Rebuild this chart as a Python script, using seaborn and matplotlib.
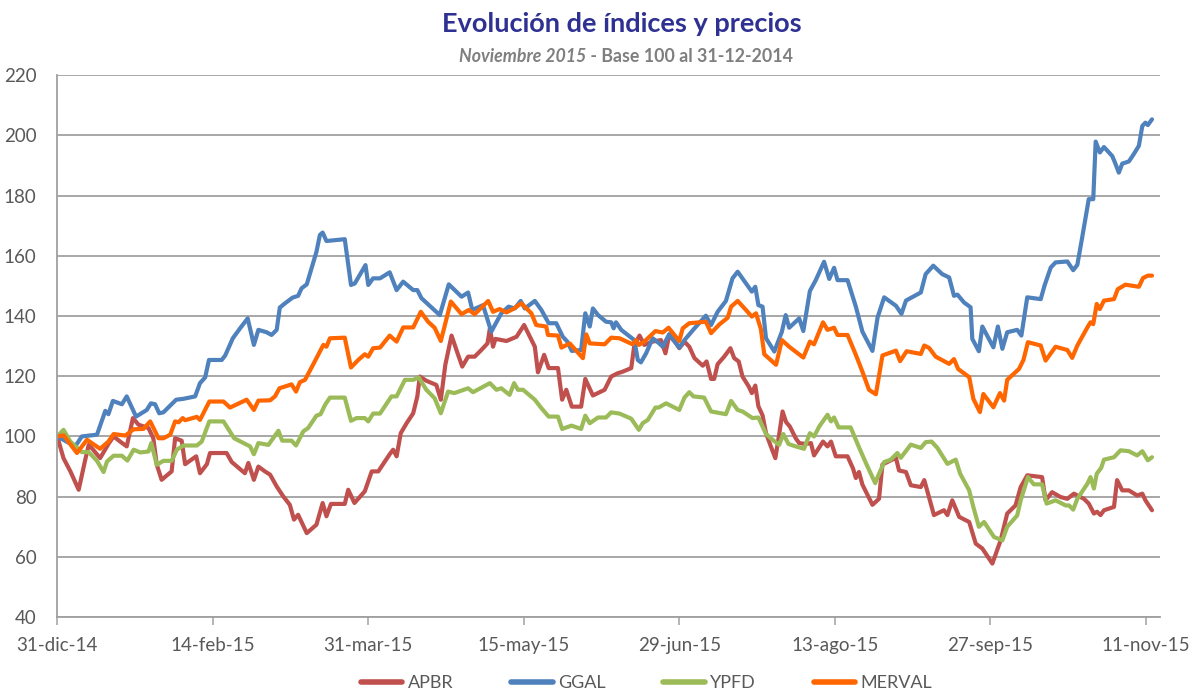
import pandas as pd
import matplotlib
matplotlib.use("Agg")
import matplotlib.pyplot as plt
import seaborn as sns

# días desde el 31-12-2014 y valor base 100
apbr_dia = [0, 1.8, 3.8, 6.2, 8.1, 9.1, 10, 12.4, 14.8, 16.3, 18.2, 20.1, 21.9, 23.5, 26.4, 27.8, 28.8, 30.2, 33.1, 34.1,
            36, 37, 40.2, 41.3, 43.3, 44.2, 49, 50.5, 54.3, 55.3, 56.9, 58.2, 60.1, 61.6, 63.5, 65.4, 67.3, 68.5, 69.7, 72.2,
            75, 76.8, 77.9, 79.2, 83.2, 84.2, 86, 89, 91, 92.9, 96.2, 97.2, 98.2, 99.4, 101.1, 103, 104.2, 104.9, 106.8, 109.7,
            111, 112.3, 114.1, 116, 117.2, 118.9, 120.8, 122.7, 124.5, 125.2, 126.1, 126.8, 130, 132.9, 135.1, 138.2, 139.1, 140.9, 142.2, 144.9,
            146.1, 147.3, 148.9, 151.6, 152.8, 155, 158.4, 160.3, 162.2, 163.6, 166.1, 167, 168.5, 169.9, 172.3, 174.7, 176, 177.1, 179.1, 180,
            181.5, 182.9, 184.4, 186.8, 187.9, 189.2, 190.1, 191.1, 193, 194.8, 195.9, 197.2, 198.3, 200.1, 201, 202, 202.9, 204.1, 205.1, 206.5,
            207.8, 208.9, 209.9, 210.9, 212, 213.7, 214.7, 216.6, 218.1, 219, 221.6, 222.9, 223.9, 225.3, 228.7, 230.3, 231.1, 232, 233, 235.9,
            237.8, 238.8, 242.7, 243.6, 245.6, 247, 249.9, 250.9, 253.7, 256.6, 257.6, 259, 261, 263.9, 265.8, 267.7, 270.6, 273, 274.9, 277.3,
            278.8, 280.7, 285, 286, 287.9, 290.3, 292.3, 294.2, 297.1, 298.5, 300, 300.9, 301.9, 302.9, 305.8, 306.7, 308.2, 310.1, 312.5, 314,
            314.9, 316.8]
apbr_val = [100, 92.8, 88.4, 82.3, 92.3, 97.2, 96.1, 92.8, 97.5, 100, 98.3, 96.7, 106.1, 103.9, 102.8, 99.4, 90.6, 85.6, 88.4, 99.4,
            98.6, 90.8, 93.4, 87.8, 90.8, 94.5, 94.5, 91.5, 87.8, 91.2, 85.6, 90, 88.4, 87.3, 83.4, 80.1, 77.3, 72.4, 74, 67.9,
            70.7, 77.9, 73.5, 77.6, 77.6, 82.3, 77.9, 81.8, 88.4, 88.4, 94.1, 95.6, 93.4, 101.1, 104.4, 107.7, 113.3, 119.9, 118.5, 117.1,
            112.2, 123.8, 133.5, 127.1, 123.2, 126.5, 126.5, 128.7, 130.9, 135.9, 129.8, 132.4, 131.7, 133.1, 137, 129.8, 121.3, 127.1, 122.7, 122.7,
            112.2, 115.5, 109.9, 109.9, 119.1, 113.6, 115.5, 119.9, 121, 121.5, 122.7, 130.4, 133.5, 130.4, 131.5, 132, 127.6, 133.7, 130.9, 129.3,
            131.5, 129.8, 126, 123.5, 124.9, 119.1, 119.1, 124, 126.5, 129.3, 126, 124.9, 119.9, 116.6, 114.4, 116.9, 110, 107, 101.1, 96.7,
            92.8, 100.6, 108.3, 104.8, 103.3, 99.4, 97.8, 97.5, 97.8, 93.7, 98.3, 96.7, 98.3, 93.4, 93.4, 89.3, 86.2, 88.2, 84, 77.3,
            79.3, 90.7, 92.9, 88.7, 88.2, 83.8, 83.2, 85.5, 73.9, 75.5, 73.9, 78.8, 73.3, 71.6, 64.4, 62.8, 57.8, 65.5, 74.4, 77.1,
            83.2, 87.1, 86.5, 78.8, 81.5, 79.9, 79.3, 81, 79.3, 77.7, 74.4, 75, 73.9, 75.5, 76.6, 85.5, 82.1, 82.1, 80.4, 81,
            78.8, 75.5]

ggal_dia = [0, 5.2, 7.1, 11.5, 13.9, 14.8, 16.1, 18.7, 20.1, 22.8, 25.9, 27.1, 28.3, 29.5, 30.7, 34.4, 36.5, 39.9, 41.3, 42.8,
            43.9, 47.6, 48.6, 50.8, 52.9, 55.1, 56.9, 58.2, 60.6, 62, 63.5, 64.4, 65.9, 68.1, 69.7, 70.7, 72.2, 73.3, 75, 76,
            76.8, 77.9, 83.2, 85, 86.1, 89.2, 90, 91.4, 93.4, 96.2, 98.2, 100.1, 103, 104.2, 105.4, 110.7, 113.3, 117, 118.9, 120.1,
            123.2, 125.6, 128.5, 130.6, 132.4, 134.1, 135.3, 138.2, 140.1, 142.2, 144.4, 146.3, 147.6, 148.9, 151.6, 152.8, 154.1, 155, 156.5, 158.8,
            160.3, 161, 161.7, 163.2, 165.1, 167, 168, 168.9, 170.4, 172.3, 174.2, 175.2, 177.1, 180, 181.5, 184.4, 187.7, 189.2, 191.1, 193.5,
            195.4, 196.9, 199.3, 201, 202, 202.9, 204.1, 205.1, 207.5, 209.7, 210.8, 211.8, 214.7, 215.9, 217.8, 219.5, 221.9, 223.4, 224.8, 225.8,
            228.7, 231.1, 233, 235.9, 237.4, 239.3, 242.7, 244.3, 245.6, 247, 249.9, 251.3, 253.5, 256.1, 258.1, 259.5, 260.5, 262.4, 264.3, 264.8,
            266.7, 267.7, 269.6, 270.9, 272.2, 273.5, 274.9, 277.8, 279, 280.7, 284.6, 285.7, 287.5, 288.9, 292.3, 294, 295.2, 296.6, 298.5, 299.8,
            300.5, 301.7, 302.9, 305.3, 306.1, 307.2, 308.2, 310.1, 311.5, 313, 314, 314.9, 315.6, 316.8]
ggal_val = [100, 96.7, 100, 100.6, 108.5, 107.4, 111.8, 110.7, 113.3, 106.6, 108.8, 111, 110.7, 107.7, 108, 112.2, 112.5, 113.3, 117.7, 119.6,
            125.4, 125.4, 126.9, 132.6, 135.9, 139.2, 130.4, 135.4, 134.6, 133.7, 135.4, 142.8, 144.2, 146.1, 146.7, 149.2, 150.5, 154.7, 161.3, 166.9,
            167.7, 164.9, 165.5, 150.3, 150.8, 156.9, 150.3, 152.5, 152.5, 154.5, 148.6, 151.4, 148.6, 148.6, 145.9, 140.3, 150.5, 146.4, 147.8, 142,
            143.6, 134.8, 140.9, 143.1, 142.5, 145, 142.5, 145, 142, 137.6, 137.6, 133.1, 131.5, 128.4, 128.7, 140.9, 136.5, 142.5, 140.3, 138.1,
            137.9, 135.9, 137.9, 135.4, 133.7, 132, 125.4, 124.6, 127.6, 132.6, 130.9, 129.8, 134, 129.5, 132, 135.9, 140.1, 137, 141.4, 145,
            152.5, 154.7, 150.8, 148.1, 149.7, 143.6, 143.1, 132.6, 128.2, 134.8, 140.3, 136.1, 139.2, 135, 148.3, 151.9, 158, 152.3, 156, 151.9,
            151.9, 143.1, 134.8, 128.4, 139.6, 146.2, 143.4, 140.7, 145.1, 146, 147.8, 153.9, 156.7, 153.9, 152.8, 146.7, 147.1, 144.5, 142.9, 132.4,
            128.3, 136.5, 132.4, 129.6, 136.5, 129.1, 134.6, 135.4, 133.5, 146.2, 145.6, 150.1, 156.1, 157.8, 158.1, 155.2, 157, 166.1, 178.8, 178.8,
            197.9, 194.3, 196.1, 193.1, 190.9, 187.6, 190.6, 191.3, 193.7, 196.5, 203.1, 204.2, 203.4, 205.3]

ypfd_dia = [0, 1.8, 3.8, 7.1, 9.1, 11.5, 13.4, 14.4, 16.3, 18.7, 20.3, 22.1, 24, 26.4, 27.2, 28.8, 30.7, 33.1, 34.6, 36.5,
            40.4, 41.8, 44, 48.1, 51.2, 55.8, 56.9, 58.2, 61.1, 64, 65.1, 67.8, 69.1, 71.2, 72.6, 75, 76.2, 77.5, 78.9, 83.2,
            85, 86.6, 89, 90, 91.4, 93.4, 96.7, 98.2, 100.6, 103, 104.6, 106.8, 109.2, 111, 113.1, 114.9, 118.9, 120.3, 125.2, 127.1,
            128.5, 130.9, 132.2, 133.3, 134.8, 138.2, 140.1, 142.2, 144.9, 146.1, 148.8, 151.6, 152.8, 154.1, 156.5, 158.8, 160.3, 162.7, 166.1, 168.3,
            169.4, 170.9, 173.1, 174, 176.2, 180, 181.5, 182.9, 184.1, 187.2, 189.2, 193.5, 195, 196.9, 198.3, 201.2, 202.9, 205.1, 207, 208.9,
            210.1, 211.6, 213.7, 216.1, 217.8, 219, 220.5, 222.9, 223.9, 224.8, 226.1, 229.6, 231.9, 234, 236.7, 237.4, 239.3, 241.2, 243.1, 244.1,
            247, 249.9, 251.3, 253, 254.7, 257.6, 260, 261.3, 263.9, 265.1, 266.7, 268.2, 271.1, 273.5, 274.9, 277.8, 278.8, 280.9, 282.6, 285,
            286.3, 288.9, 291.8, 292.8, 294, 295.2, 298.1, 299, 300, 300.8, 302.1, 302.9, 305.8, 307.7, 310.1, 312.5, 314, 315.6, 316.8]
ypfd_val = [100, 102.2, 98.3, 94.8, 94.8, 91.9, 88.2, 91.7, 93.6, 93.6, 92, 95.6, 94.7, 95, 97.8, 90.6, 91.9, 91.9, 95.6, 97,
            97, 98.3, 105, 105, 99.4, 96.7, 94.1, 97.8, 97.2, 101.9, 98.6, 98.6, 97, 101.7, 102.8, 106.9, 107.4, 110.5, 112.9, 112.9,
            105.2, 106.1, 106.1, 105, 107.6, 107.6, 113.3, 113.3, 118.8, 118.8, 119.6, 115.5, 112.7, 107.7, 114.9, 114.4, 116, 114.7, 117.7, 115.5,
            116, 113.8, 117.7, 115.5, 115.5, 112.2, 109.4, 106.6, 106.6, 102.5, 103.6, 102.5, 106.9, 104.4, 106.3, 106.3, 108, 107.6, 105.9, 102.2,
            104.4, 105.5, 109.6, 109.6, 111, 108.8, 112.9, 114.7, 113.3, 112.9, 108.3, 107.4, 111.8, 108.8, 108.3, 106.1, 106.3, 100.8, 98.9, 97.2,
            100.8, 97.5, 96.7, 95.9, 101.1, 100, 103.3, 107.2, 105, 106.3, 103, 103, 96.7, 91.2, 84.5, 86.5, 91.5, 92.3, 94.5, 92.9,
            97.3, 96.2, 98.1, 98.3, 96.2, 90.9, 92.3, 87.6, 82.1, 76.6, 70, 71.6, 66.6, 65.5, 70, 73.8, 78.8, 86.5, 84.1, 84.1,
            77.7, 78.8, 77.1, 77.1, 75.7, 79.3, 84.3, 86.5, 82.7, 87.6, 89.6, 92.3, 93.1, 95.4, 95.1, 93.7, 95.1, 92.1, 93.1]

merval_dia = [0, 1.8, 5.7, 8.6, 12.4, 14.8, 16.3, 19.7, 22.1, 24.9, 26.9, 29.3, 30.7, 32.7, 34.1, 35.1, 36.3, 37, 40.4, 41.3,
              44, 48.1, 50, 54.8, 56.9, 58.2, 61.6, 63, 64.3, 67.8, 69.1, 70.2, 71.7, 74.1, 77, 77.9, 78.9, 83.2, 85, 87.1,
              89, 90, 91.4, 93.4, 96.2, 98.2, 100.1, 103, 105.2, 107.3, 109.2, 111, 113.9, 117, 119.1, 120.8, 124.7, 126.1, 128, 130,
              131.9, 134.3, 137.2, 138.6, 141.5, 142, 144.9, 145.9, 148.3, 152.1, 153.1, 154.1, 158.4, 160.3, 162.7, 166.5, 167.5, 168.3, 169.9, 173.1,
              175.2, 176.9, 180, 181, 182.9, 187.7, 189.2, 191.6, 194, 195, 196.9, 199.3, 201, 202.2, 203.6, 204.6, 208, 209.7, 211.8, 215.9,
              217.8, 219, 221.6, 222.9, 224.8, 225.8, 228.7, 231.1, 233, 234.9, 236.9, 238.8, 242.7, 243.9, 245.8, 249.9, 250.9, 252.3, 254.2, 258.1,
              259.5, 260.7, 263.9, 265.1, 267, 268, 270.9, 272.8, 274, 274.9, 278.3, 279.6, 280.9, 284.6, 286, 288.9, 292.3, 293.7, 295.2, 298.1,
              299, 299.8, 300.8, 301.7, 302.9, 305.8, 306.9, 309.1, 313, 314.2, 315.6, 316.8]
merval_val = [100, 100.4, 94.5, 98.9, 95.9, 98.3, 100.8, 100.3, 102.4, 102.5, 105, 99.4, 99.4, 100.6, 105, 104.7, 106.1, 105.4, 106.5, 105.5,
              111.6, 111.6, 109.6, 112.2, 108.8, 111.9, 112, 113.3, 116, 117.3, 114.9, 118, 118.8, 124, 130.4, 129.8, 132.6, 132.8, 122.9, 125.4,
              127.3, 126.5, 129.3, 129.5, 133.5, 131.5, 136.2, 136.2, 141.4, 138.1, 136.1, 131.7, 144.8, 140.6, 142, 140.6, 145, 141.4, 142.3, 141.2,
              142.3, 144.2, 140.9, 137, 136.5, 133.7, 133.5, 129.5, 130.9, 126, 133.9, 130.9, 130.6, 132.8, 132.6, 130.6, 132, 130.4, 131.5, 135,
              134.5, 136.1, 131.7, 135.9, 137.6, 138.1, 134.3, 137.2, 139.4, 143.1, 145, 142, 139.8, 140.9, 135.7, 127.3, 123.8, 132, 129.8, 126.2,
              131.5, 130.6, 137.9, 135.4, 136.1, 133.7, 133.7, 127.1, 121.5, 115.5, 114, 126.9, 128.5, 125, 128.3, 127.4, 130.2, 129.4, 126.5, 124.1,
              125.7, 122.4, 119.7, 112.5, 108.1, 114.1, 109.7, 114.4, 111.9, 118.8, 122.4, 125.4, 131.3, 130.2, 125.2, 129.8, 128.7, 126.1, 130.2, 136.2,
              137.9, 137.3, 144, 142.3, 145.1, 145.6, 148.9, 150.4, 149.7, 152.6, 153.4, 153.4]

series = ["APBR", "GGAL", "YPFD", "MERVAL"]
colores = ["#C0504D", "#4F81BD", "#9BBB59", "#FF6600"]
meses = ["ene", "feb", "mar", "abr", "may", "jun", "jul", "ago", "sep", "oct", "nov", "dic"]

base = pd.Timestamp("2014-12-31")
frames = []
for nombre, dias, vals in [("APBR", apbr_dia, apbr_val), ("GGAL", ggal_dia, ggal_val),
                           ("YPFD", ypfd_dia, ypfd_val), ("MERVAL", merval_dia, merval_val)]:
    frames.append(pd.DataFrame({"fecha": base + pd.to_timedelta(dias, unit="D"),
                                "valor": vals, "serie": nombre}))
df = pd.concat(frames, ignore_index=True)

sns.set_theme(style="white")
plt.rcParams["font.family"] = ["Lato", "DejaVu Sans"]

fig, ax = plt.subplots(figsize=(11.93, 6.95), dpi=100)
fig.subplots_adjust(left=0.048, right=0.972, top=0.892, bottom=0.112)

sns.lineplot(data=df, x="fecha", y="valor", hue="serie", hue_order=series,
             palette=colores, estimator=None, sort=True, linewidth=3.0, ax=ax, legend=False)

ax.set_ylim(40, 220)
ax.set_yticks(range(40, 221, 20))
ax.set_xlim(base, base + pd.Timedelta(days=319))
ticks = pd.date_range(base, periods=8, freq="45D")
ax.set_xticks(ticks)
ax.set_xticklabels([f"{d.day}-{meses[d.month - 1]}-{d:%y}" for d in ticks])
ax.set_xlabel("")
ax.set_ylabel("")

ax.grid(axis="y", color="#A0A0A0", linewidth=1.3)
ax.set_axisbelow(True)
for lado in ["top", "right"]:
    ax.spines[lado].set_visible(False)
for lado in ["left", "bottom"]:
    ax.spines[lado].set_color("#A0A0A0")
    ax.spines[lado].set_linewidth(1.3)
ax.tick_params(axis="x", bottom=True, length=6, width=1.1, color="#A0A0A0",
               labelsize=13.5, labelcolor="#595959", pad=8)
ax.tick_params(axis="y", left=False, labelsize=13.5, labelcolor="#595959", pad=9)

fig.text(0.521, 0.966, "Evolución de índices y precios", ha="center", va="center",
         fontsize=19.5, fontweight="bold", color="#2E3192")
fig.text(0.491, 0.918, "Noviembre 2015", ha="right", va="center", fontsize=12.8,
         fontweight="bold", fontstyle="italic", color="#7F7F7F")
fig.text(0.491, 0.918, " - Base 100 al 31-12-2014", ha="left", va="center", fontsize=12.8,
         fontweight="bold", color="#7F7F7F")

handles = [plt.Line2D([], [], color=c, linewidth=4) for c in colores]
leg = fig.legend(handles, series, loc="center", bbox_to_anchor=(0.542, 0.017), ncol=4,
                 frameon=False, fontsize=13, handlelength=2.3, columnspacing=3.2, handletextpad=0.3)
for t in leg.get_texts():
    t.set_color("#595959")

fig.savefig("out.png", dpi=100)
